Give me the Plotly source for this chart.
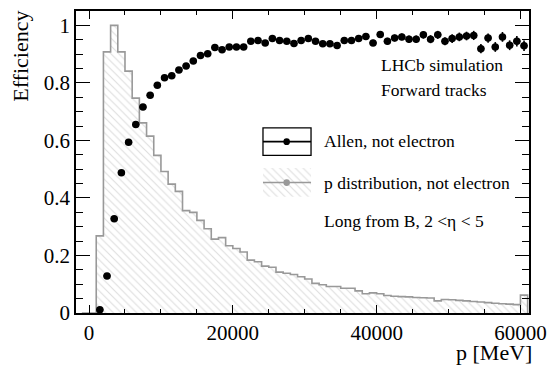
import plotly.graph_objects as go

# ---------------- data ----------------
bin_edges_kmev = list(range(-1, 62))  # bin edges in thousands of MeV
hist_values = [0.0, 0.0, 0.268, 0.908, 1.0, 0.908, 0.841, 0.747, 0.661, 0.615, 0.548,
               0.492, 0.448, 0.423, 0.356, 0.350, 0.322, 0.293, 0.257, 0.262, 0.234,
               0.224, 0.212, 0.184, 0.178, 0.163, 0.159, 0.142, 0.138, 0.134, 0.126,
               0.118, 0.103, 0.098, 0.092, 0.092, 0.086, 0.086, 0.077, 0.067, 0.070,
               0.067, 0.061, 0.058, 0.057, 0.056, 0.054, 0.053, 0.052, 0.042, 0.047,
               0.046, 0.044, 0.042, 0.040, 0.038, 0.036, 0.034, 0.032, 0.031, 0.029,
               0.062]

eff_p = [1500 + 1000 * i for i in range(60)]
eff_values = [0.011, 0.129, 0.328, 0.488, 0.594, 0.655, 0.716, 0.757, 0.792, 0.818,
              0.825, 0.845, 0.859, 0.876, 0.895, 0.901, 0.923, 0.915, 0.925, 0.925,
              0.925, 0.945, 0.947, 0.939, 0.954, 0.947, 0.945, 0.937, 0.947, 0.954,
              0.945, 0.936, 0.936, 0.930, 0.947, 0.947, 0.954, 0.961, 0.939, 0.968,
              0.945, 0.956, 0.960, 0.952, 0.952, 0.967, 0.952, 0.967, 0.945, 0.954,
              0.960, 0.963, 0.965, 0.919, 0.956, 0.925, 0.960, 0.931, 0.945, 0.929]
eff_errors = [0.002, 0.004, 0.005, 0.005, 0.005, 0.005, 0.005, 0.005, 0.005, 0.005,
              0.005, 0.005, 0.005, 0.005, 0.005, 0.005, 0.005, 0.006, 0.006, 0.006,
              0.006, 0.006, 0.006, 0.007, 0.007, 0.007, 0.007, 0.008, 0.008, 0.008,
              0.008, 0.009, 0.009, 0.009, 0.010, 0.010, 0.010, 0.011, 0.011, 0.011,
              0.012, 0.012, 0.012, 0.013, 0.013, 0.013, 0.014, 0.014, 0.014, 0.015,
              0.015, 0.015, 0.016, 0.016, 0.016, 0.017, 0.017, 0.017, 0.018, 0.018]

x_tick_start, x_tick_step = 0, 20000
y_tick_step = 0.2
x_range = [-1814, 61190]
y_range = [0, 1.05]

FONT = "Liberation Serif, Times New Roman, Times, serif"

# ---------------- geometry helpers ----------------
W, H = 556, 367
ML, MR, MT, MB = 76, 18, 9, 54
PW, PH = W - ML - MR, H - MT - MB


def px_x(px):
    return (px - ML) / PW


def px_y(py):
    return (H - MB - py) / PH


def data_x(px):
    return x_range[0] + px_x(px) * (x_range[1] - x_range[0])


def data_y(py):
    return y_range[0] + px_y(py) * (y_range[1] - y_range[0])


fig = go.Figure()

# histogram as step outline with hatched fill
edges = [e * 1000 for e in bin_edges_kmev]
hx = [edges[0]] + edges
hy = [0.0] + hist_values + [0.0]
hatch = dict(shape="\\", fgcolor="#bdbdbd", bgcolor="white", size=5.5, solidity=0.2)
fig.add_trace(go.Scatter(
    x=hx, y=hy, mode="lines", line=dict(shape="hv", color="#999999", width=1.6),
    fill="tozeroy", fillcolor="rgba(0,0,0,0)", fillpattern=hatch, showlegend=False,
    hoverinfo="skip"))

# efficiency points
fig.add_trace(go.Scatter(
    x=eff_p, y=eff_values, mode="markers",
    marker=dict(color="black", size=7.5, symbol="circle"),
    error_y=dict(type="data", array=eff_errors, color="black", thickness=1.6, width=0),
    error_x=dict(type="constant", value=500, color="black", thickness=1.6, width=0),
    showlegend=False))

# legend entry 2 hatched box (drawn as a trace for the pattern)
lx0, lx1 = 266.7, 315.7
fig.add_trace(go.Scatter(
    x=[data_x(lx0), data_x(lx1), data_x(lx1), data_x(lx0), data_x(lx0)],
    y=[data_y(167), data_y(167), data_y(196), data_y(196), data_y(167)],
    mode="lines", line=dict(width=0, color="rgba(0,0,0,0)"), fill="toself",
    fillcolor="rgba(0,0,0,0)", fillpattern=hatch, showlegend=False, hoverinfo="skip"))

shapes = [
    dict(type="rect", xref="paper", yref="paper", x0=px_x(lx0), x1=px_x(lx1),
         y0=px_y(126.7), y1=px_y(154.3), line=dict(color="black", width=1.3)),
    dict(type="line", xref="paper", yref="paper", x0=px_x(lx0), x1=px_x(lx1),
         y0=px_y(140.5), y1=px_y(140.5), line=dict(color="black", width=1.6)),
    dict(type="circle", xref="paper", yref="paper", x0=px_x(287.5), x1=px_x(294.2),
         y0=px_y(137.1), y1=px_y(143.9), fillcolor="black", line=dict(color="black", width=0)),
    dict(type="line", xref="paper", yref="paper", x0=px_x(lx0), x1=px_x(lx1),
         y0=px_y(181.7), y1=px_y(181.7), line=dict(color="#999999", width=1.6)),
    dict(type="circle", xref="paper", yref="paper", x0=px_x(287.5), x1=px_x(294.2),
         y0=px_y(178.3), y1=px_y(185.1), fillcolor="#999999", line=dict(color="#999999", width=0)),
]

texts = [
    ("LHCb simulation", 385, 63),
    ("Forward tracks", 385, 89),
    ("Allen, not electron", 327, 140),
    ("p distribution, not electron", 327, 182),
    ("Long from B, 2 <η < 5", 327, 220),
]
annotations = []
for t, x, y in texts:
    annotations.append(dict(text=t, x=px_x(x), y=px_y(y), xref="paper", yref="paper",
                            xanchor="left", yanchor="middle", showarrow=False,
                            font=dict(family=FONT, size=17.5, color="black")))
annotations.append(dict(text="Efficiency", x=px_x(20), y=px_y(55), xref="paper", yref="paper",
                        xanchor="center", yanchor="middle", textangle=-90, showarrow=False,
                        font=dict(family=FONT, size=22, color="black")))
annotations.append(dict(text="p [MeV]", x=px_x(542), y=px_y(366.5), xref="paper", yref="paper",
                        xanchor="right", yanchor="bottom", showarrow=False, borderpad=0,
                        font=dict(family=FONT, size=22, color="black")))

axis_common = dict(showline=True, linecolor="black", linewidth=1.5, mirror="allticks",
                   ticks="inside", tickcolor="black", tickwidth=1, showgrid=False,
                   zeroline=False, tickfont=dict(family=FONT, size=21, color="black"))

fig.update_layout(
    width=W, height=H, margin=dict(l=ML, r=MR, t=MT, b=MB),
    plot_bgcolor="white", paper_bgcolor="white",
    font=dict(family=FONT, color="black"),
    xaxis=dict(range=x_range, tickmode="linear", tick0=x_tick_start, dtick=x_tick_step,
               tickformat="d", ticklen=8, ticklabeloverflow="allow",
               minor=dict(dtick=5000, tick0=0, ticklen=4, ticks="inside", tickcolor="black"),
               **axis_common),
    yaxis=dict(range=y_range, tickmode="linear", tick0=0, dtick=y_tick_step, ticklen=14,
               minor=dict(dtick=0.05, tick0=0, ticklen=7, ticks="inside", tickcolor="black"),
               **axis_common),
    shapes=shapes, annotations=annotations, showlegend=False,
)

fig.write_html("out.html")
